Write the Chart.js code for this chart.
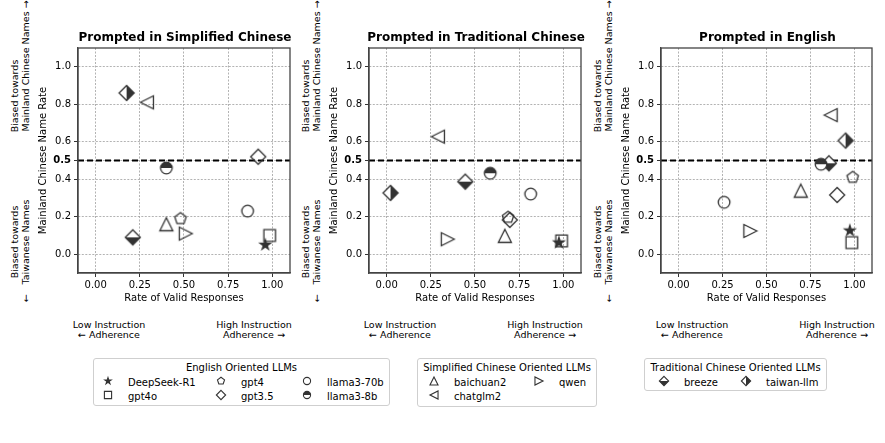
<!DOCTYPE html>
<html>
<head>
<meta charset="utf-8">
<script src="https://cdn.jsdelivr.net/npm/chart.js@4.4.1/dist/chart.umd.min.js"></script>
<style>
body { margin: 0; background: #fff; font-family: "DejaVu Sans", sans-serif; color: #000; }
#fig { position: relative; width: 885px; height: 443px; overflow: hidden; background: #fff; }
.abs { position: absolute; white-space: nowrap; }
.ptitle { font-weight: bold; font-size: 12px; transform: translate(-50%, -50%); }
.rot { font-size: 9.5px; transform: translate(-50%, -50%) rotate(-90deg); }
.note { font-size: 9.5px; line-height: 10px; text-align: center; transform: translateX(-50%); }
.legend { position: absolute; border: 1px solid #cfcfcf; border-radius: 3px; background: #fff; font-size: 10px; box-sizing: border-box; }
.legend .lt { position: absolute; left: 0; right: 0; text-align: center; transform: translateY(-50%); }
.legend .li { position: absolute; transform: translateY(-50%); white-space: nowrap; }
.legend canvas { position: absolute; }
</style>
</head>
<body>
<div id="fig"></div>
<script>
// models in legend order
const models = ['DeepSeek-R1', 'gpt4o', 'gpt4', 'gpt3.5', 'llama3-70b', 'llama3-8b',
                'baichuan2', 'chatglm2', 'qwen', 'breeze', 'taiwan-llm'];

// Prompted in Simplified Chinese
const scValid = [0.96, 0.985, 0.48, 0.92, 0.86, 0.40, 0.40, 0.29, 0.51, 0.21, 0.175];
const scRate  = [0.05, 0.10, 0.19, 0.52, 0.23, 0.46, 0.16, 0.81, 0.11, 0.09, 0.86];
// Prompted in Traditional Chinese
const tcValid = [0.975, 0.99, 0.687, 0.697, 0.815, 0.586, 0.669, 0.29, 0.346, 0.445, 0.022];
const tcRate  = [0.062, 0.071, 0.197, 0.183, 0.321, 0.432, 0.098, 0.627, 0.080, 0.387, 0.327];
// Prompted in English
const enValid = [0.974, 0.985, 0.99, 0.902, 0.259, 0.81, 0.695, 0.865, 0.408, 0.855, 0.95];
const enRate  = [0.126, 0.062, 0.41, 0.316, 0.277, 0.48, 0.339, 0.742, 0.124, 0.485, 0.606];

const xTicks = [0, 0.25, 0.5, 0.75, 1.0];
const yTicks = [0, 0.2, 0.4, 0.5, 0.6, 0.8, 1.0];
const xMin = -0.1, xMax = 1.1, yMin = -0.1, yMax = 1.1;
const threshold = 0.5;

const legendGroups = [
  { title: 'English Oriented LLMs', names: ['DeepSeek-R1', 'gpt4', 'llama3-70b', 'gpt4o', 'gpt3.5', 'llama3-8b'] },
  { title: 'Simplified Chinese Oriented LLMs', names: ['baichuan2', 'qwen', 'chatglm2'] },
  { title: 'Traditional Chinese Oriented LLMs', names: ['breeze', 'taiwan-llm'] }
];

const markerFor = {
  'DeepSeek-R1': 'star', 'gpt4o': 'square', 'gpt4': 'pentagon', 'gpt3.5': 'diamond',
  'llama3-70b': 'circle', 'llama3-8b': 'halfcircle', 'baichuan2': 'triup',
  'chatglm2': 'trileft', 'qwen': 'triright', 'breeze': 'diamondbottom', 'taiwan-llm': 'diamondright'
};

const DARK = '#333';

function polyPath(ctx, pts) {
  ctx.beginPath();
  pts.forEach((p, i) => i ? ctx.lineTo(p[0], p[1]) : ctx.moveTo(p[0], p[1]));
  ctx.closePath();
}

function regular(cx, cy, r, n, start) {
  const pts = [];
  for (let i = 0; i < n; i++) {
    const a = start + i * 2 * Math.PI / n;
    pts.push([cx + r * Math.cos(a), cy + r * Math.sin(a)]);
  }
  return pts;
}

function drawMarker(ctx, kind, cx, cy, s, lw) {
  ctx.lineWidth = lw;
  ctx.strokeStyle = DARK;
  ctx.lineJoin = 'miter';
  let halfClip = null;
  if (kind === 'star') {
    const pts = [];
    const R = 5.4 * s, r = R * 0.382;
    for (let i = 0; i < 10; i++) {
      const a = -Math.PI / 2 + i * Math.PI / 5;
      const rr = i % 2 ? r : R;
      pts.push([cx + rr * Math.cos(a), cy + rr * Math.sin(a)]);
    }
    polyPath(ctx, pts);
    ctx.fillStyle = DARK; ctx.fill(); ctx.stroke();
    return;
  }
  if (kind === 'square') {
    const h = 5.8 * s;
    polyPath(ctx, [[cx - h, cy - h], [cx + h, cy - h], [cx + h, cy + h], [cx - h, cy + h]]);
  } else if (kind === 'pentagon') {
    polyPath(ctx, regular(cx, cy, 6 * s, 5, -Math.PI / 2));
  } else if (kind.startsWith('diamond')) {
    const h = 7.5 * s;
    polyPath(ctx, [[cx, cy - h], [cx + h, cy], [cx, cy + h], [cx - h, cy]]);
    if (kind === 'diamondbottom') halfClip = [cx - h - 2, cy, 2 * h + 4, h + 2];
    if (kind === 'diamondright') halfClip = [cx, cy - h - 2, h + 2, 2 * h + 4];
  } else if (kind === 'circle' || kind === 'halfcircle') {
    const r = 5.8 * s;
    ctx.beginPath(); ctx.arc(cx, cy, r, 0, Math.PI * 2); ctx.closePath();
    if (kind === 'halfcircle') halfClip = [cx - r - 2, cy - r - 2, 2 * r + 4, r + 2];
  } else if (kind === 'triup') {
    const h = 6.5 * s;
    polyPath(ctx, [[cx, cy - h], [cx + h, cy + h], [cx - h, cy + h]]);
  } else if (kind === 'trileft') {
    const h = 6.5 * s;
    polyPath(ctx, [[cx - h, cy], [cx + h, cy - h], [cx + h, cy + h]]);
  } else if (kind === 'triright') {
    const h = 6.5 * s;
    polyPath(ctx, [[cx + h, cy], [cx - h, cy + h], [cx - h, cy - h]]);
  }
  if (halfClip) {
    ctx.fillStyle = '#fff'; ctx.fill();
    ctx.save(); ctx.clip();
    ctx.fillStyle = DARK; ctx.fillRect(...halfClip);
    ctx.restore();
  }
  ctx.stroke();
}

function markerCanvas(kind, s, lw) {
  const size = Math.ceil(18 * s) + 2;
  const c = document.createElement('canvas');
  c.width = c.height = size;
  drawMarker(c.getContext('2d'), kind, size / 2, size / 2, s, lw);
  return c;
}

const fig = document.getElementById('fig');

function addDiv(cls, html, x, y) {
  const d = document.createElement('div');
  d.className = 'abs ' + cls;
  d.innerHTML = html;
  d.style.left = x + 'px';
  d.style.top = y + 'px';
  fig.appendChild(d);
  return d;
}

// top and right spines
const framePlugin = {
  id: 'frame',
  afterDraw(chart) {
    const { ctx, chartArea: a } = chart;
    ctx.save();
    ctx.strokeStyle = '#444';
    ctx.lineWidth = 1.3;
    ctx.strokeRect(a.left, a.top, a.right - a.left, a.bottom - a.top);
    ctx.restore();
  }
};

const panels = [
  { title: 'Prompted in Simplified Chinese', xs: scValid, ys: scRate, left: 78, right: 292 },
  { title: 'Prompted in Traditional Chinese', xs: tcValid, ys: tcRate, left: 369, right: 583 },
  { title: 'Prompted in English', xs: enValid, ys: enRate, left: 661, right: 874 }
];

const Y_AXIS_W = 45, X_AXIS_H = 32, PAD_TOP = 10, PAD_RIGHT = 6, CANVAS_TOP = 38, CANVAS_H = 267;

panels.forEach((p) => {
  const o = p.left - 78;
  const cv = document.createElement('canvas');
  const w = (p.right - p.left) + Y_AXIS_W + PAD_RIGHT;
  cv.width = w; cv.height = CANVAS_H;
  cv.style.position = 'absolute';
  cv.style.left = (p.left - Y_AXIS_W) + 'px';
  cv.style.top = CANVAS_TOP + 'px';
  cv.style.width = w + 'px'; cv.style.height = CANVAS_H + 'px';
  fig.appendChild(cv);

  const datasets = models.map((m, i) => ({
    label: m,
    data: [{ x: p.xs[i], y: p.ys[i] }],
    pointStyle: markerCanvas(markerFor[m], 1, 1.3),
    pointRadius: 7,
    showLine: false
  }));
  datasets.push({
    type: 'line',
    label: 'threshold',
    data: [{ x: xMin, y: threshold }, { x: xMax, y: threshold }],
    borderColor: '#000',
    borderWidth: 2,
    borderDash: [6, 3],
    pointRadius: 0,
    order: 20
  });

  new Chart(cv, {
    type: 'scatter',
    data: { datasets },
    options: {
      responsive: false,
      animation: false,
      devicePixelRatio: 1,
      layout: { padding: { top: PAD_TOP, right: PAD_RIGHT, left: 0, bottom: 0 } },
      plugins: { legend: { display: false }, tooltip: { enabled: false } },
      scales: {
        x: {
          type: 'linear', min: xMin, max: xMax,
          afterBuildTicks: (s) => { s.ticks = xTicks.map(v => ({ value: v })); },
          afterFit: (s) => { s.height = X_AXIS_H; },
          ticks: { color: '#000', padding: 2, font: { family: 'DejaVu Sans', size: 10 },
                   maxRotation: 0, callback: (v) => Number(v).toFixed(2) },
          grid: { color: '#a0a0a0', lineWidth: 0.8, tickLength: 4, tickColor: '#333', tickWidth: 1, tickBorderDash: [] },
          border: { display: true, color: '#444', width: 1.3, dash: [2, 1.5] },
          title: { display: true, text: 'Rate of Valid Responses', color: '#000',
                   font: { family: 'DejaVu Sans', size: 10 }, padding: { top: 0, bottom: 1 } }
        },
        y: {
          type: 'linear', min: yMin, max: yMax,
          afterBuildTicks: (s) => { s.ticks = yTicks.map(v => ({ value: v })); },
          afterFit: (s) => { s.width = Y_AXIS_W; },
          ticks: { color: '#000', padding: 3,
                   font: (c) => ({ family: 'DejaVu Sans', size: 10, weight: c.tick && c.tick.value === threshold ? 'bold' : 'normal' }),
                   callback: (v) => Number(v).toFixed(1) },
          grid: { color: '#a0a0a0', lineWidth: 0.8, tickLength: 4, tickColor: '#333', tickWidth: 1, tickBorderDash: [] },
          border: { display: true, color: '#444', width: 1.3, dash: [2, 1.5] },
          title: { display: true, text: 'Mainland Chinese Name Rate', color: '#000',
                   font: { family: 'DejaVu Sans', size: 10 }, padding: { top: 4, bottom: 0 } }
        }
      }
    },
    plugins: [framePlugin]
  });

  addDiv('ptitle', p.title, (p.left + p.right) / 2, 37);
  addDiv('rot', 'Biased towards', 14 + o, 96);
  addDiv('rot', 'Mainland Chinese Names &rarr;', 25 + o, 66);
  addDiv('rot', 'Biased towards', 14 + o, 242);
  addDiv('rot', 'Taiwanese Names', 25 + o, 242);
  addDiv('rot', '&larr;', 25 + o, 298);
  addDiv('note', 'Low Instruction<br>&larr; Adherence', 109 + o, 320);
  addDiv('note', 'High Instruction<br>Adherence &rarr;', 254 + o, 320);
});

// legends
const legendBoxes = [
  { left: 93, top: 358, width: 297, height: 48, cols: [14, 127, 213], perRow: 3 },
  { left: 417, top: 358, width: 180, height: 49, cols: [16, 121], perRow: 2 },
  { left: 644, top: 358, width: 183, height: 33, cols: [19, 101], perRow: 2 }
];

legendGroups.forEach((g, gi) => {
  const b = legendBoxes[gi];
  const box = document.createElement('div');
  box.className = 'legend';
  box.style.left = b.left + 'px'; box.style.top = b.top + 'px';
  box.style.width = b.width + 'px'; box.style.height = b.height + 'px';
  const t = document.createElement('div');
  t.className = 'lt'; t.textContent = g.title; t.style.top = '8px';
  box.appendChild(t);
  g.names.forEach((m, i) => {
    const col = i % b.perRow, row = Math.floor(i / b.perRow);
    const cy = 23 + row * 14;
    const mc = markerCanvas(markerFor[m], 0.62, 1.1);
    mc.style.left = (b.cols[col] - mc.width / 2) + 'px';
    mc.style.top = (cy - mc.height / 2 - 1) + 'px';
    box.appendChild(mc);
    const li = document.createElement('div');
    li.className = 'li'; li.textContent = m;
    li.style.left = (b.cols[col] + 20) + 'px'; li.style.top = cy + 'px';
    box.appendChild(li);
  });
  fig.appendChild(box);
});
</script>
</body>
</html>
